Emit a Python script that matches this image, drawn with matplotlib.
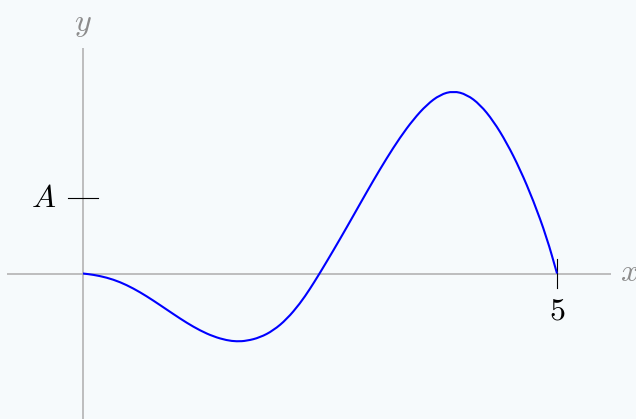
import matplotlib
matplotlib.use("Agg")
import matplotlib.pyplot as plt
from matplotlib.path import Path
from matplotlib.patches import PathPatch

plt.rcParams['mathtext.fontset'] = 'cm'

# Curve samples (y in units of A)
x_vals = [0.0, 0.109, 0.250, 0.390, 0.531, 0.672, 0.812, 0.953, 1.094, 1.234,
          1.375, 1.516, 1.621, 1.727, 1.867, 2.008, 2.149, 2.289, 2.395, 2.482,
          2.518, 2.640, 2.782, 2.922, 3.062, 3.203, 3.343, 3.484, 3.626, 3.766,
          3.906, 4.048, 4.188, 4.328, 4.469, 4.610, 4.750, 4.891, 5.0]
y_vals = [0.0, -0.016, -0.053, -0.112, -0.197, -0.301, -0.417, -0.537, -0.653, -0.754,
          -0.834, -0.885, -0.900, -0.892, -0.847, -0.754, -0.605, -0.397, -0.202, -0.026,
          0.048, 0.304, 0.612, 0.923, 1.231, 1.527, 1.800, 2.040, 2.236, 2.369,
          2.418, 2.371, 2.238, 2.021, 1.732, 1.380, 0.967, 0.480, 0.0]

y_tick_value = 1.0
y_tick_label = r'$A$'
x_tick_value = 5.0
x_tick_label = r'$5$'

bg = '#f6fafc'
fig = plt.figure(figsize=(6.36, 4.19), dpi=100, facecolor=bg)
ax = fig.add_axes([0, 0, 1, 1])
ax.set_facecolor(bg)
ax.set_xlim(-0.8755, 5.833)
ax.set_ylim(-1.927, 3.623)
ax.axis('off')

gray = '#b3b3b3'
# axes
ax.plot([-0.80, 5.57], [0, 0], color=gray, lw=1.2, solid_capstyle='butt', zorder=1)
ax.plot([0, 0], [-1.93, 2.99], color=gray, lw=1.2, solid_capstyle='butt', zorder=1)

# curve: smooth quadratic path through the read samples
pts = list(zip(x_vals, y_vals))
verts = [pts[0]]
codes = [Path.MOVETO]
mid0 = ((pts[0][0] + pts[1][0]) / 2, (pts[0][1] + pts[1][1]) / 2)
verts.append(mid0)
codes.append(Path.LINETO)
for i in range(1, len(pts) - 1):
    mid = ((pts[i][0] + pts[i + 1][0]) / 2, (pts[i][1] + pts[i + 1][1]) / 2)
    verts += [pts[i], mid]
    codes += [Path.CURVE3, Path.CURVE3]
verts.append(pts[-1])
codes.append(Path.LINETO)
ax.add_patch(PathPatch(Path(verts, codes), facecolor='none', edgecolor='#0000ff',
                       lw=1.5, zorder=3, joinstyle='round', capstyle='butt'))

# ticks
ax.plot([-0.158, 0.158], [y_tick_value, y_tick_value], color='black', lw=0.8, zorder=2)
ax.plot([x_tick_value, x_tick_value], [-0.192, 0.192], color='black', lw=0.8, zorder=2)

ax.text(-0.417, y_tick_value, y_tick_label, fontsize=23, ha='center', va='center', color='black')
ax.text(x_tick_value, -0.50, x_tick_label, fontsize=23, ha='center', va='center', color='black')

ax.text(0, 3.31, r'$y$', fontsize=23, ha='center', va='center', color='#8c8c8c')
ax.text(5.76, 0.02, r'$x$', fontsize=23, ha='center', va='center', color='#8c8c8c')

fig.savefig('out.png', dpi=100, facecolor=bg)
